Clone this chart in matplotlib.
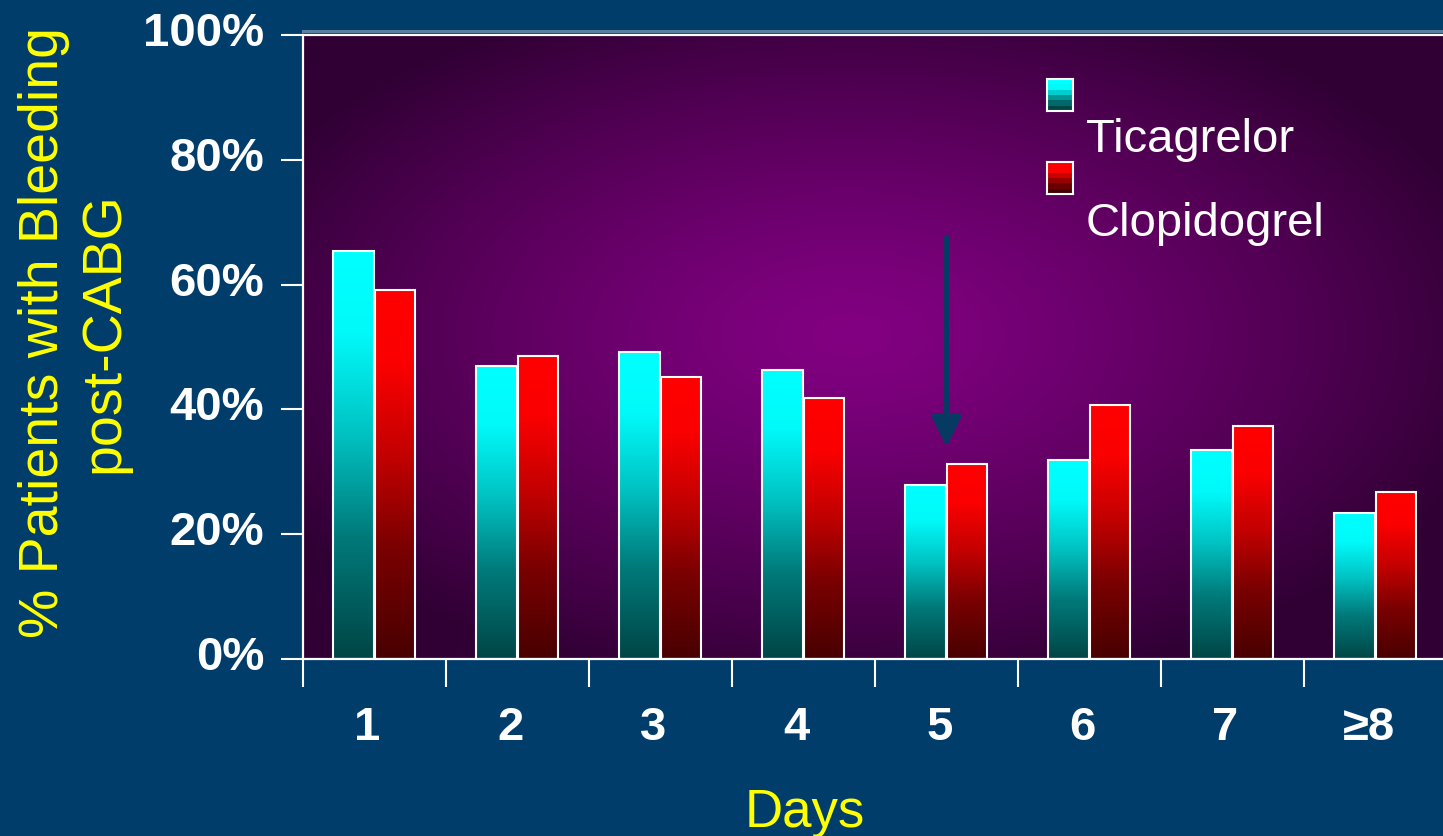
import numpy as np
import matplotlib
matplotlib.use('Agg')
import matplotlib.pyplot as plt
from matplotlib.colors import LinearSegmentedColormap
from matplotlib.lines import Line2D
from matplotlib.transforms import ScaledTranslation

days = ['1', '2', '3', '4', '5', '6', '7', '≥8']
ticagrelor = [65.4, 47.0, 49.2, 46.3, 27.9, 31.9, 33.5, 23.4]
clopidogrel = [59.1, 48.6, 45.2, 41.8, 31.2, 40.7, 37.3, 26.8]
y_ticks = [0, 20, 40, 60, 80, 100]

plt.rcParams['font.family'] = ['Liberation Sans', 'DejaVu Sans']

BG = '#013d6b'
YELLOW = '#ffff00'
W, H = 1443, 836

cyan_fade = LinearSegmentedColormap.from_list(
    'cyan_fade', [(0, '#004545'), (0.3, '#007a7a'), (0.55, '#00c2c2'),
                  (0.8, '#00fafa'), (1, '#00ffff')])
red_fade = LinearSegmentedColormap.from_list(
    'red_fade', [(0, '#480000'), (0.3, '#7a0000'), (0.55, '#c20000'),
                 (0.8, '#fa0000'), (1, '#ff0000')])

fig = plt.figure(figsize=(W / 100, H / 100), dpi=100, facecolor=BG)
ax = fig.add_axes([303 / W, 1 - 659 / H, 1144 / W, 624 / H])

# purple radial glow behind the bars
gx, gy = np.meshgrid(np.linspace(0, 1, 500), np.linspace(0, 1, 300))
d = np.sqrt(((gx - 0.48) / 0.58) ** 2 + ((gy - 0.52) / 0.58) ** 2)
d = np.clip(d, 0, 1) ** 1.3
centre = np.array([0x82, 0x00, 0x82]) / 255
edge = np.array([0x30, 0x00, 0x34]) / 255
glow = centre + (edge - centre) * d[..., None]
ax.imshow(glow, extent=(0, 1, 0, 1), transform=ax.transAxes, origin='lower',
          aspect='auto', zorder=0)

x = np.arange(len(days))
w = 0.285
grad = np.linspace(0, 1, 256).reshape(-1, 1)
bars_t = ax.bar(x - 0.29, ticagrelor, w, align='edge', fc='none', ec='white',
                lw=1.5, zorder=3)
bars_c = ax.bar(x, clopidogrel, w, align='edge', fc='none', ec='white',
                lw=1.5, zorder=3)
for bars, cmap in ((bars_t, cyan_fade), (bars_c, red_fade)):
    for b in bars:
        x0, h = b.get_x(), b.get_height()
        ax.imshow(grad, cmap=cmap, extent=(x0, x0 + b.get_width(), 0, h),
                  origin='lower', aspect='auto', zorder=2)

ax.annotate('', xy=(4, 34), xytext=(4, 67.6),
            arrowprops=dict(arrowstyle='-|>,head_length=0.6,head_width=0.3',
                            color='#073a62', lw=3.6, mutation_scale=30,
                            shrinkA=0, shrinkB=0), zorder=4)

ax.set_xlim(-0.5, 7.5)
ax.set_ylim(0, 100)
ax.set_facecolor('none')

for side in ('left', 'bottom', 'top'):
    ax.spines[side].set_color('white')
    ax.spines[side].set_linewidth(1.6)
ax.spines['right'].set_visible(False)

ax.set_yticks(y_ticks)
ax.set_yticklabels([f'{v}%' for v in y_ticks], fontweight='bold')
ax.tick_params(axis='y', direction='out', length=16, width=1.5, color='white',
               labelcolor='white', labelsize=34, pad=12)
for lab in ax.get_yticklabels():
    lab.set_transform(lab.get_transform() + ScaledTranslation(0, 6 / 100, fig.dpi_scale_trans))

ax.set_xticks(np.arange(-0.5, 7, 1))
ax.set_xticklabels([])
ax.set_xticks(x, minor=True)
ax.set_xticklabels(days, minor=True, fontweight='bold')
ax.tick_params(axis='x', which='major', direction='out', length=20, width=1.5,
               color='white')
ax.tick_params(axis='x', which='minor', length=0, labelcolor='white',
               labelsize=34, pad=34)
for lab in ax.get_xticklabels(minor=True):
    lab.set_transform(lab.get_transform() + ScaledTranslation(-7 / 100, 0, fig.dpi_scale_trans))

# thin frame line above the plot area
fig.add_artist(Line2D([303 / W, 1], [1 - 31 / H] * 2, color='#5d7f9e', lw=2.2))

fig.text(74 / W, 1 - 333 / H, '% Patients with Bleeding\npost-CABG', rotation=90,
         ha='center', va='center', multialignment='center', linespacing=1.2,
         fontsize=40, color=YELLOW)
fig.text(805 / W, 1 - 827 / H, 'Days', ha='center', va='baseline',
         fontsize=38, color=YELLOW)

# legend swatches with stepped gradient
steps = np.linspace(0, 1, 6).reshape(-1, 1)
for top, cmap, label, base in ((79, cyan_fade, 'Ticagrelor', 152),
                               (162, red_fade, 'Clopidogrel', 236)):
    sw = fig.add_axes([1047 / W, 1 - (top + 32) / H, 26 / W, 32 / H])
    sw.imshow(steps, cmap=cmap, origin='lower', aspect='auto', vmin=0, vmax=1)
    sw.set_xticks([])
    sw.set_yticks([])
    for s in sw.spines.values():
        s.set_color('white')
        s.set_linewidth(1.5)
    fig.text(1086 / W, 1 - base / H, label, ha='left', va='baseline',
             fontsize=34, color='white')

fig.savefig('out.png', dpi=100, facecolor=BG)
